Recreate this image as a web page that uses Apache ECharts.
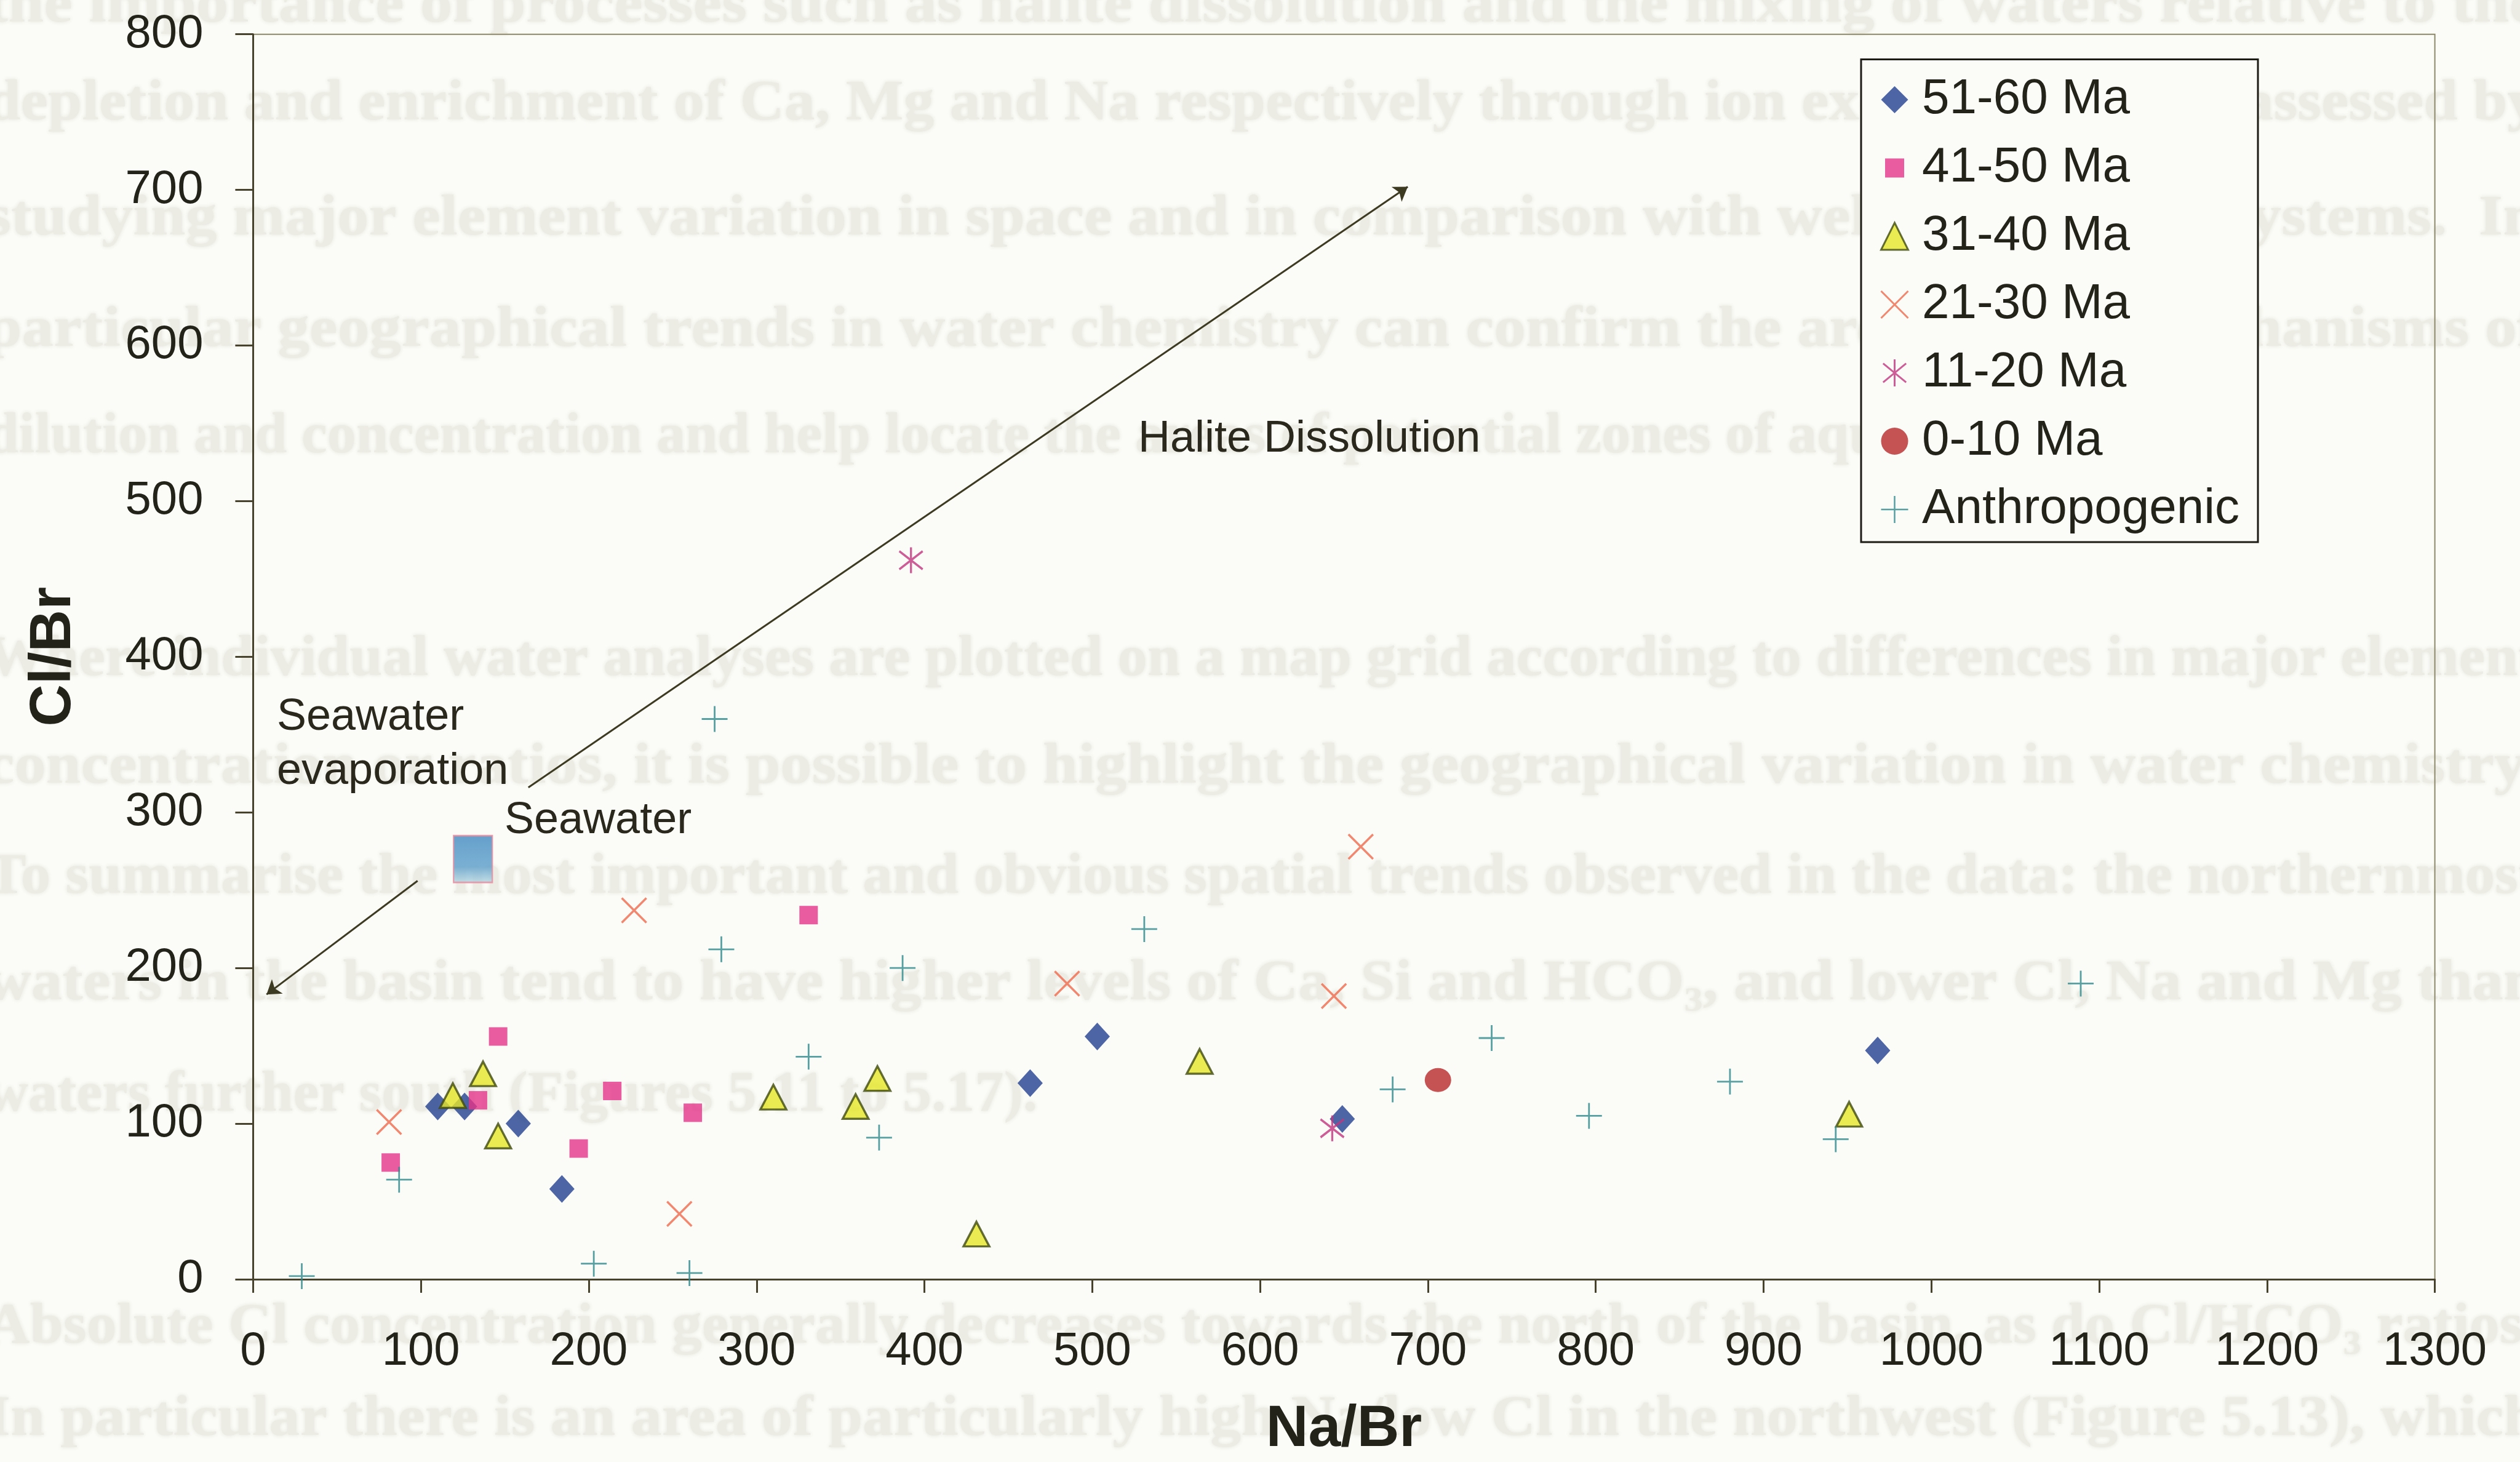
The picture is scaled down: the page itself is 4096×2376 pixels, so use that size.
<!DOCTYPE html>
<html>
<head>
<meta charset="utf-8">
<title>Cl/Br versus Na/Br</title>
<script src="https://cdn.jsdelivr.net/npm/echarts@6/dist/echarts.min.js"></script>
<style>
  html, body { margin: 0; padding: 0; background: #fbfbf7; }
  #chart { width: 4096px; height: 2376px; }
</style>
</head>
<body>
<div id="chart"></div>
<script>
// ---- data: Na/Br (x) against Cl/Br (y) by groundwater age group ----
const ageGroups = ['51-60 Ma', '41-50 Ma', '31-40 Ma', '21-30 Ma', '11-20 Ma', '0-10 Ma', 'Anthropogenic'];

const ma51to60 = [[110, 111], [126, 111], [158, 100], [184, 58], [463, 126], [503, 156], [649, 103], [968, 147]];
const ma41to50 = [[82, 75], [134, 115], [146, 156], [194, 84], [214, 121], [262, 107], [331, 234]];
const ma31to40 = [[119, 118], [137, 132], [146, 92], [310, 117], [359, 111], [372, 129], [431, 29], [564, 140], [951, 106]];
const ma21to30 = [[81, 101], [227, 237], [254, 42], [485, 190], [644, 182], [660, 278]];
const ma11to20 = [[392, 462], [643, 97]];
const ma0to10 = [[706, 128]];
const anthropogenic = [[29, 2], [87, 64], [203, 10], [260, 4], [275, 360], [279, 212], [331, 143], [373, 91], [387, 200],
                       [531, 225], [679, 122], [738, 155], [796, 105], [880, 127], [943, 90], [1089, 190]];

// reference composition of seawater
const seawater = [[131, 270]];

// process trend arrows (start, end) in Na/Br, Cl/Br units
const haliteDissolution = [[164, 316], [688, 702]];
const seawaterEvaporation = [[98, 256], [8, 183]];

// axis ranges
const xMin = 0, xMax = 1300, xStep = 100;
const yMin = 0, yMax = 800, yStep = 100;

// running text of the thesis page the figure sits on
const pageLines = [
  'the importance of processes such as halite dissolution and the mixing of waters relative to the',
  'depletion and enrichment of Ca, Mg and Na respectively through ion exchange can be assessed by',
  'studying major element variation in space and in comparison with well-understood systems.  In',
  'particular geographical trends in water chemistry can confirm the areas where mechanisms of',
  'dilution and concentration and help locate the areas of potential zones of aquifer recharge.',
  'Where individual water analyses are plotted on a map grid according to differences in major element',
  'concentration or ratios, it is possible to highlight the geographical variation in water chemistry.',
  'To summarise the most important and obvious spatial trends observed in the data: the northernmost',
  'waters in the basin tend to have higher levels of Ca, Si and HCO\u2083, and lower Cl, Na and Mg than',
  'waters further south (Figures 5.11 to 5.17).',
  'Absolute Cl concentration generally decreases towards the north of the basin, as do Cl/HCO\u2083 ratios.',
  'In particular there is an area of particularly high Na/low Cl in the northwest (Figure 5.13), which'
];
const pageLineY = [11, 170, 357, 538, 711, 1073, 1248, 1427, 1600, 1781, 2158, 2308];
const pageLineJustified = [true, true, true, true, false, true, true, true, true, false, true, true];

// ---- drawing ----
const SANS = '"Liberation Sans", Arial, Helvetica, sans-serif';
const INK = '#24231a';
const AXIS_INK = '#46422c';

const chart = echarts.init(document.getElementById('chart'), null, { renderer: 'canvas', width: 4096, height: 2376 });

const measureCtx = document.createElement('canvas').getContext('2d');
function textWidth(text, font) {
  measureCtx.font = font;
  return measureCtx.measureText(text).width;
}

const pageFont = 'bold 94px "Liberation Serif", "Times New Roman", serif';
const pageLeft = -22, pageRight = 4125;
const pageText = pageLines.map((line, i) => {
  const w = textWidth(line, pageFont);
  return {
    type: 'text',
    x: pageLeft,
    y: pageLineY[i],
    scaleX: pageLineJustified[i] ? (pageRight - pageLeft) / w : 1,
    z: -5,
    silent: true,
    style: {
      text: line,
      font: pageFont,
      fill: '#ececE5',
      textShadowColor: '#e6e6de',
      textShadowBlur: 6,
      textAlign: 'left',
      textVerticalAlign: 'middle',
      verticalAlign: 'middle'
    }
  };
});

const noteFont = '72px ' + SANS;
function note(text, x, y) {
  return {
    type: 'text', x: x, y: y, z: 20, silent: true,
    style: { text: text, font: noteFont, fill: '#2a281c', textAlign: 'left', textVerticalAlign: 'middle', verticalAlign: 'middle' }
  };
}

const PLUS = 'path://M10,0L10,20M0,10L20,10';
const CROSS = 'path://M0,0L20,20M20,0L0,20';
const STAR = 'path://M10,0L10,20M1.5,3L18.5,17M18.5,3L1.5,17';

const seriesList = [
  { name: '51-60 Ma', data: ma51to60, symbol: 'diamond', symbolSize: [41, 45],
    itemStyle: { color: '#22408e', borderWidth: 0 } },
  { name: '41-50 Ma', data: ma41to50, symbol: 'rect', symbolSize: 30,
    itemStyle: { color: '#e5348a', borderWidth: 0 } },
  { name: '31-40 Ma', data: ma31to40, symbol: 'triangle', symbolSize: [42, 40],
    itemStyle: { color: '#e6e628', borderColor: '#3e4a0e', borderWidth: 3.5 } },
  { name: '21-30 Ma', data: ma21to30, symbol: CROSS, symbolSize: 40,
    itemStyle: { color: '#f06a4c', borderColor: '#f06a4c', borderWidth: 3.5 } },
  { name: '11-20 Ma', data: ma11to20, symbol: STAR, symbolSize: [38, 42],
    itemStyle: { color: '#c2367e', borderColor: '#c2367e', borderWidth: 3.5 } },
  { name: '0-10 Ma', data: ma0to10, symbol: 'circle', symbolSize: [43, 39],
    itemStyle: { color: '#b8292a', borderWidth: 0 } },
  { name: 'Anthropogenic', data: anthropogenic, symbol: PLUS, symbolSize: 42,
    itemStyle: { color: '#2e8a8c', borderColor: '#2e8a8c', borderWidth: 2.8 } }
].map(s => Object.assign({ type: 'scatter', z: 4, silent: true }, s));

const legendItems = [
  { name: ageGroups[0] },
  { name: ageGroups[1], icon: 'path://M0,0M44,44M6.5,6.5L37.5,6.5L37.5,37.5L6.5,37.5Z' },
  { name: ageGroups[2], itemStyle: { borderWidth: 3 } },
  { name: ageGroups[3], itemStyle: { borderWidth: 3 } },
  { name: ageGroups[4], itemStyle: { borderWidth: 3 } },
  { name: ageGroups[5] },
  { name: ageGroups[6], itemStyle: { borderWidth: 2.5 } }
];

chart.setOption({
  animation: false,
  backgroundColor: '#fbfbf7',
  textStyle: { fontFamily: SANS },
  grid: {
    left: 411.4, right: 138.4, top: 55.7, bottom: 296.3,
    show: true, borderColor: '#8d8968', borderWidth: 2, backgroundColor: 'transparent'
  },
  xAxis: {
    type: 'value', min: xMin, max: xMax, interval: xStep,
    name: 'Na/Br', nameLocation: 'middle', nameGap: 197,
    nameTextStyle: { fontSize: 95, fontWeight: 'bold', color: INK, fontFamily: SANS },
    axisLine: { show: true, onZero: false, lineStyle: { color: AXIS_INK, width: 3 } },
    axisTick: { show: true, inside: false, length: 22, lineStyle: { color: AXIS_INK, width: 3 } },
    axisLabel: { fontSize: 76, color: INK, margin: 80, fontFamily: SANS, formatter: v => String(v) },
    splitLine: { show: false }
  },
  yAxis: {
    type: 'value', min: yMin, max: yMax, interval: yStep,
    name: 'Cl/Br', nameLocation: 'middle', nameGap: 276,
    nameTextStyle: { fontSize: 95, fontWeight: 'bold', color: INK, fontFamily: SANS },
    axisLine: { show: true, onZero: false, lineStyle: { color: AXIS_INK, width: 3 } },
    axisTick: { show: true, inside: false, length: 29, lineStyle: { color: AXIS_INK, width: 3 } },
    axisLabel: { fontSize: 76, color: INK, margin: 81, fontFamily: SANS, formatter: v => String(v) },
    splitLine: { show: false }
  },
  legend: {
    orient: 'vertical', left: 3025, top: 96.5,
    data: legendItems,
    itemWidth: 44, itemHeight: 44, itemGap: 31,
    padding: [25.5, 30, 13, 31],
    borderColor: '#1c1b14', borderWidth: 3, backgroundColor: '#fbfbf7',
    selectedMode: false, z: 10,
    textStyle: { fontFamily: SANS, fontSize: 80, lineHeight: 80, color: INK, padding: [0, 0, 0, 17.6] }
  },
  graphic: pageText.concat([
    note('Seawater', 450, 1166),
    note('evaporation', 450, 1254),
    note('Seawater', 820, 1334),
    note('Halite Dissolution', 1850, 714)
  ]),
  series: seriesList.concat([
    {
      name: 'Seawater', type: 'scatter', data: seawater, symbol: 'rect', symbolSize: [63, 76], z: 5, silent: true,
      itemStyle: {
        color: new echarts.graphic.LinearGradient(0, 0, 0, 1, [
          { offset: 0, color: '#3f88c0' },
          { offset: 0.65, color: '#5a9dca' },
          { offset: 1, color: '#b9d9e2' }
        ]),
        borderColor: '#e98a9c', borderWidth: 2.5
      }
    },
    {
      name: 'trends', type: 'lines', coordinateSystem: 'cartesian2d', z: 3, silent: true,
      symbol: ['none', 'arrow'], symbolSize: 22,
      lineStyle: { color: '#3d3a22', width: 3, opacity: 1, curveness: 0 },
      data: [{ coords: haliteDissolution }, { coords: seawaterEvaporation }]
    }
  ])
});
</script>
</body>
</html>
